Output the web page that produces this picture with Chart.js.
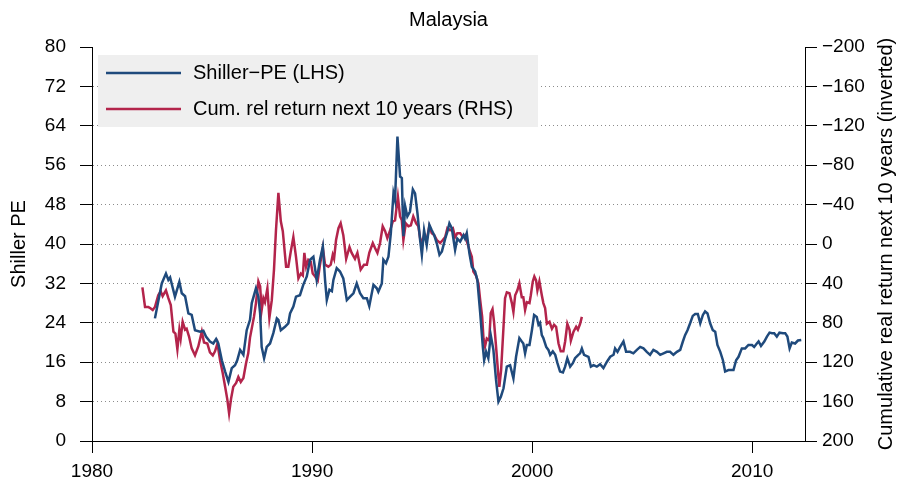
<!DOCTYPE html>
<html>
<head>
<meta charset="utf-8">
<script src="https://cdn.jsdelivr.net/npm/chart.js@4/dist/chart.umd.min.js"></script>
<style>
  html, body { margin: 0; padding: 0; background: #fff; }
  #wrap { width: 901px; height: 490px; }
</style>
</head>
<body>
<div id="wrap"><canvas id="peChart" width="901" height="490"></canvas></div>
<script>
// Shiller PE (left axis)
const peYears = [
  1982.86, 1983.17, 1983.36, 1983.47, 1983.55, 1983.77, 1983.97, 1984.08, 1984.23, 1984.38,
  1984.53, 1984.68, 1984.91, 1985.06, 1985.18, 1985.36, 1985.51, 1985.64, 1985.74, 1985.90,
  1986.05, 1986.20, 1986.35, 1986.50, 1986.60, 1986.73, 1986.88, 1987.03, 1987.18, 1987.26,
  1987.45, 1987.56, 1987.64, 1987.71, 1987.82, 1987.94, 1988.09, 1988.24, 1988.40, 1988.47,
  1988.58, 1988.77, 1988.92, 1989.00, 1989.15, 1989.27, 1989.45, 1989.60, 1989.76, 1989.91,
  1990.06, 1990.21, 1990.36, 1990.49, 1990.59, 1990.67, 1990.79, 1990.90, 1990.97, 1991.12,
  1991.27, 1991.42, 1991.58, 1991.73, 1991.88, 1992.03, 1992.18, 1992.33, 1992.49, 1992.60,
  1992.79, 1992.94, 1993.01, 1993.17, 1993.24, 1993.36, 1993.47, 1993.58, 1993.70, 1993.77,
  1993.88, 1994.00, 1994.08, 1994.15, 1994.23, 1994.33, 1994.45, 1994.58, 1994.68, 1994.79,
  1994.91, 1994.99, 1995.09, 1995.21, 1995.33, 1995.44, 1995.55, 1995.67, 1995.79, 1995.90,
  1996.05, 1996.15, 1996.24, 1996.35, 1996.50, 1996.60, 1996.73, 1996.88, 1996.95, 1997.03,
  1997.15, 1997.26, 1997.41, 1997.51, 1997.64, 1997.76, 1997.82, 1997.91, 1998.01, 1998.12,
  1998.24, 1998.36, 1998.47, 1998.58, 1998.70, 1998.85, 1999.00, 1999.15, 1999.27, 1999.42,
  1999.53, 1999.60, 1999.68, 1999.76, 1999.88, 1999.99, 2000.09, 2000.21, 2000.29, 2000.36,
  2000.44, 2000.51, 2000.64, 2000.74, 2000.82, 2000.94, 2001.05, 2001.15, 2001.27, 2001.40,
  2001.50, 2001.60, 2001.73, 2001.85, 2001.95, 2002.10, 2002.18, 2002.26, 2002.36, 2002.56,
  2002.67, 2002.79, 2002.94, 2003.09, 2003.24, 2003.40, 2003.55, 2003.70, 2003.77, 2003.88,
  2004.00, 2004.15, 2004.27, 2004.45, 2004.60, 2004.76, 2004.91, 2005.06, 2005.21, 2005.36,
  2005.51, 2005.67, 2005.82, 2005.97, 2006.12, 2006.27, 2006.42, 2006.58, 2006.73, 2006.85,
  2006.95, 2007.06, 2007.18, 2007.30, 2007.41, 2007.53, 2007.64, 2007.76, 2007.86, 2007.97,
  2008.09, 2008.21, 2008.32, 2008.42, 2008.55, 2008.67, 2008.77, 2008.92, 2009.00, 2009.15,
  2009.27, 2009.38, 2009.53, 2009.68, 2009.83, 2009.99, 2010.09, 2010.21, 2010.29, 2010.40,
  2010.55, 2010.67, 2010.79, 2010.90, 2011.00, 2011.12, 2011.24, 2011.40, 2011.50, 2011.60,
  2011.70, 2011.80, 2011.95, 2012.08, 2012.23
];
const peValues = [
  24.9, 32.0, 34.0, 32.7, 33.2, 29.3, 32.3, 30.0, 29.4, 25.9,
  25.6, 22.5, 22.2, 22.4, 21.2, 20.2, 19.8, 20.7, 19.8, 16.4,
  14.1, 12.0, 14.8, 15.4, 16.4, 18.5, 17.5, 22.5, 24.6, 28.0,
  31.0, 29.3, 25.9, 19.1, 16.8, 19.1, 19.8, 21.9, 24.9, 24.6,
  22.5, 23.2, 23.9, 25.9, 27.3, 29.3, 29.6, 31.7, 33.4, 36.8,
  37.4, 32.7, 36.8, 39.5, 32.7, 28.6, 30.7, 30.4, 32.7, 35.1,
  34.4, 33.0, 28.6, 29.3, 30.0, 32.0, 30.0, 29.0, 29.0, 27.4,
  31.7, 31.0, 30.3, 32.0, 36.8, 36.1, 37.4, 42.2, 50.3, 48.9,
  61.8, 53.7, 53.4, 41.6, 47.7, 45.6, 46.6, 51.1, 50.3, 46.2,
  40.8, 37.8, 42.8, 39.8, 43.9, 42.8, 41.8, 40.1, 37.8, 38.5,
  41.1, 42.5, 44.2, 43.2, 38.8, 41.1, 40.5, 41.8, 41.1, 42.2,
  38.1, 35.4, 34.4, 32.7, 26.0, 19.1, 16.4, 18.1, 16.8, 21.5,
  18.5, 12.4, 8.0, 9.0, 10.7, 15.1, 15.4, 12.7, 17.1, 20.9,
  20.2, 19.8, 17.8, 19.5, 19.5, 22.5, 25.6, 25.2, 23.6, 24.0,
  21.5, 20.9, 19.1, 18.5, 17.5, 18.2, 17.5, 15.8, 14.1, 13.9,
  15.1, 16.8, 15.1, 15.8, 16.8, 17.5, 17.8, 18.8, 17.5, 17.1,
  15.1, 15.4, 15.1, 15.6, 14.8, 16.1, 17.1, 17.5, 18.8, 18.1,
  19.1, 20.2, 18.1, 18.1, 17.8, 18.5, 19.1, 18.8, 18.1, 17.5,
  18.5, 18.1, 17.5, 17.8, 18.1, 18.1, 17.5, 18.1, 18.5, 20.2,
  21.5, 22.5, 23.9, 25.4, 25.8, 25.8, 23.9, 25.6, 26.3, 25.9,
  23.9, 22.5, 22.2, 19.5, 18.1, 16.4, 14.1, 14.4, 14.4, 14.4,
  16.4, 17.1, 18.8, 18.8, 19.5, 19.5, 19.1, 19.8, 20.2, 19.3,
  20.2, 21.2, 22.0, 21.9, 21.9, 21.2, 22.0, 21.9, 21.9, 21.2,
  18.8, 20.0, 19.8, 20.4, 20.5
];

// Cumulative relative return next 10 years (right axis, inverted)
const retYears = [
  1982.29, 1982.41, 1982.56, 1982.64, 1982.76, 1982.86, 1983.01, 1983.12, 1983.21, 1983.36,
  1983.47, 1983.58, 1983.70, 1983.79, 1983.88, 1983.97, 1984.03, 1984.12, 1984.23, 1984.30,
  1984.41, 1984.53, 1984.68, 1984.83, 1984.99, 1985.09, 1985.24, 1985.36, 1985.49, 1985.59,
  1985.70, 1985.82, 1985.94, 1986.05, 1986.15, 1986.23, 1986.32, 1986.42, 1986.55, 1986.65,
  1986.76, 1986.88, 1987.00, 1987.10, 1987.18, 1987.36, 1987.45, 1987.56, 1987.64, 1987.71,
  1987.79, 1987.86, 1987.97, 1988.06, 1988.17, 1988.27, 1988.36, 1988.47, 1988.58, 1988.67,
  1988.82, 1988.92, 1989.03, 1989.15, 1989.27, 1989.38, 1989.49, 1989.58, 1989.65, 1989.73,
  1989.83, 1989.94, 1990.03, 1990.14, 1990.26, 1990.36, 1990.49, 1990.59, 1990.74, 1990.85,
  1990.94, 1991.00, 1991.09, 1991.20, 1991.30, 1991.42, 1991.55, 1991.70, 1991.80, 1991.95,
  1992.06, 1992.21, 1992.36, 1992.49, 1992.60, 1992.76, 1992.86, 1992.97, 1993.09, 1993.21,
  1993.32, 1993.42, 1993.55, 1993.67, 1993.77, 1993.90, 1994.00, 1994.08, 1994.15, 1994.26,
  1994.38, 1994.49, 1994.60, 1994.73, 1994.83, 1994.91, 1995.01, 1995.09, 1995.21, 1995.33,
  1995.44, 1995.55, 1995.67, 1995.82, 1995.94, 1996.05, 1996.15, 1996.27, 1996.40, 1996.50,
  1996.60, 1996.73, 1996.85, 1996.95, 1997.06, 1997.15, 1997.26, 1997.33, 1997.45, 1997.56,
  1997.64, 1997.73, 1997.79, 1997.86, 1997.94, 1998.05, 1998.12, 1998.20, 1998.27, 1998.36,
  1998.47, 1998.51, 1998.59, 1998.70, 1998.77, 1998.85, 1998.97, 1999.08, 1999.15, 1999.23,
  1999.33, 1999.42, 1999.53, 1999.60, 1999.68, 1999.76, 1999.88, 1999.94, 2000.03, 2000.10,
  2000.18, 2000.24, 2000.33, 2000.44, 2000.51, 2000.59, 2000.67, 2000.79, 2000.90, 2001.00,
  2001.09, 2001.20, 2001.30, 2001.42, 2001.50, 2001.60, 2001.70, 2001.76, 2001.88, 2002.00,
  2002.08, 2002.18, 2002.26
];
const retValues = [
  44, 64, 64, 65, 67, 64, 52, 48, 53, 47,
  55, 62, 89, 91, 107, 87, 96, 79, 87, 86,
  94, 106, 113, 104, 89, 100, 101, 110, 113, 109,
  101, 118, 131, 145, 158, 172, 157, 145, 141, 135,
  140, 136, 121, 111, 95, 74, 60, 38, 43, 67,
  55, 59, 45, 75, 57, 26, -14, -52, -23, -13,
  23, 23, 8, -7, 13, 35, 30, 32, 9, 23,
  16, 18, 30, 33, 37, 21, 4, 21, 23, 21,
  11, 15, -4, -16, -21, -9, 15, 3, 9, 15,
  9, 26, 21, 21, 9, -1, 4, 9, -1, -18,
  -13, -6, -14, -23, -24, -48, -28, -24, -4, -21,
  -18, -19, -28, -21, -18, -6, -1, -9, -4, -18,
  -11, -9, -4, -1, -4, -7, -16, -14, -16, -7,
  -11, -11, -7, -9, -1, 6, 13, 28, 32, 40,
  57, 74, 96, 104, 96, 98, 70, 66, 79, 104,
  135, 145, 128, 84, 55, 49, 50, 60, 69, 52,
  47, 40, 54, 54, 67, 59, 60, 52, 38, 33,
  37, 47, 38, 52, 60, 65, 81, 79, 86, 82,
  84, 101, 109, 109, 99, 81, 87, 98, 89, 84,
  87, 81, 74
];

const leftTicks = [0, 80, 8];       // min, max, step
const rightTicks = [-200, 200, 40]; // min, max, step (inverted)
const xRange = [1980, 2012.4, 10];

const seriesLabels = ['Shiller\u2212PE (LHS)', 'Cum. rel return next 10 years (RHS)'];
const rightTitle = 'Cumulative real return next 10 years (inverted)';
const blue = '#1f4a7c';
const red = '#b3244b';

const FONT = '"Liberation Sans", Arial, Helvetica, sans-serif';
Chart.defaults.font.family = FONT;
Chart.defaults.color = '#000';

const frame = {
  id: 'frame',
  beforeDatasetsDraw(chart) {
    const { ctx, chartArea: a } = chart;
    ctx.save();
    ctx.fillStyle = '#efefef';
    ctx.fillRect(a.left + 6, a.top + 8, 440, 72);
    ctx.font = '20px ' + FONT;
    ctx.textBaseline = 'middle';
    ctx.fillStyle = '#000';
    chart.data.datasets.forEach((ds, i) => {
      const y = a.top + 26 + i * 36;
      ctx.strokeStyle = ds.borderColor;
      ctx.lineWidth = 2.5;
      ctx.beginPath();
      ctx.moveTo(a.left + 14, y);
      ctx.lineTo(a.left + 89, y);
      ctx.stroke();
      ctx.fillText(ds.label, a.left + 101, y);
    });
    ctx.restore();
  },
  afterDraw(chart) {
    const { ctx, chartArea: a } = chart;
    ctx.save();
    ctx.font = '20px ' + FONT;
    ctx.textAlign = 'center';
    ctx.textBaseline = 'middle';
    ctx.fillStyle = '#000';
    ctx.fillText('Malaysia', (a.left + a.right) / 2, 20);
    // right axis title, reading bottom to top
    ctx.translate(886, (a.top + a.bottom) / 2);
    ctx.rotate(-Math.PI / 2);
    ctx.fillText(rightTitle, 0, 0);
    ctx.restore();
  }
};

const ctx = document.getElementById('peChart').getContext('2d');
new Chart(ctx, {
  type: 'line',
  data: {
    datasets: [
      {
        label: seriesLabels[0],
        data: peYears.map((x, i) => ({ x: x, y: peValues[i] })),
        borderColor: blue,
        borderWidth: 2.5,
        pointRadius: 0,
        yAxisID: 'y'
      },
      {
        label: seriesLabels[1],
        data: retYears.map((x, i) => ({ x: x, y: retValues[i] })),
        borderColor: red,
        borderWidth: 2.5,
        pointRadius: 0,
        yAxisID: 'y2'
      }
    ]
  },
  options: {
    responsive: false,
    animation: false,
    devicePixelRatio: 1,
    layout: { padding: { top: 47, left: 0, right: 0, bottom: 0 } },
    plugins: {
      legend: { display: false },
      title: { display: false },
      tooltip: { enabled: false }
    },
    scales: {
      x: {
        type: 'linear',
        position: 'bottom',
        min: xRange[0],
        max: xRange[1],
        ticks: {
          stepSize: xRange[2],
          includeBounds: false,
          callback: v => String(v),
          font: { size: 19 },
          padding: 7,
          maxRotation: 0
        },
        grid: { drawOnChartArea: false, tickLength: 12, tickColor: '#000', color: '#000' },
        border: { color: '#000', width: 1 },
        afterFit: s => { s.height = 49; }
      },
      y: {
        position: 'left',
        min: leftTicks[0],
        max: leftTicks[1],
        ticks: { stepSize: leftTicks[2], font: { size: 19 }, padding: 14 },
        grid: {
          color: c => (c.tick && (c.tick.value === leftTicks[0] || c.tick.value === leftTicks[1])) ? 'rgba(0,0,0,0)' : '#8c8c8c',
          tickColor: '#000',
          tickLength: 12,
          lineWidth: 1
        },
        border: { color: '#000', width: 1, dash: [1, 3] },
        title: { display: true, text: 'Shiller PE', font: { size: 20 }, padding: { top: 7, bottom: 0 } },
        afterFit: s => { s.width = 92; }
      },
      y2: {
        position: 'right',
        reverse: true,
        min: rightTicks[0],
        max: rightTicks[1],
        ticks: {
          stepSize: rightTicks[2],
          font: { size: 19 },
          padding: 5,
          callback: v => v < 0 ? '\u2212' + Math.abs(v) : String(v)
        },
        grid: { drawOnChartArea: false, tickColor: '#000', tickLength: 12 },
        border: { color: '#000', width: 1 },
        afterFit: s => { s.width = 96; }
      }
    }
  },
  plugins: [frame]
});
</script>
</body>
</html>
